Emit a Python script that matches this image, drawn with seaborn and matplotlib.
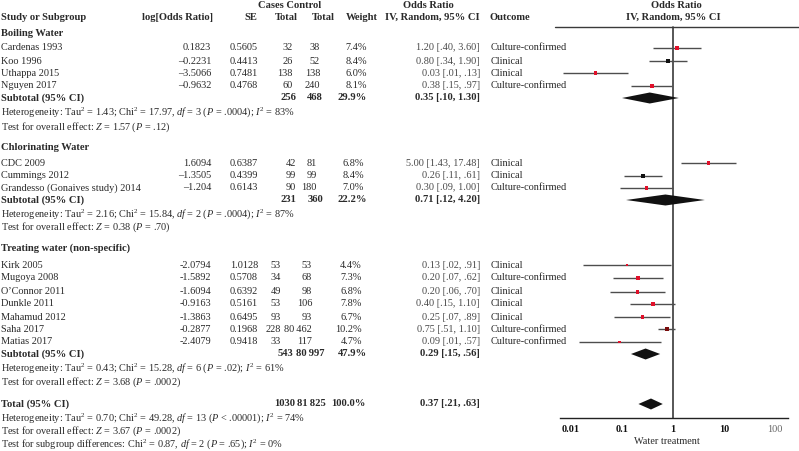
import numpy as np
import pandas as pd
import matplotlib
matplotlib.use("Agg")
import matplotlib.pyplot as plt
import seaborn as sns

# ---- data ----
studies = ["Cardenas 1993", "Koo 1996", "Uthappa 2015", "Nguyen 2017",
           "CDC 2009", "Cummings 2012", "Grandesso (Gonaives study) 2014",
           "Kirk 2005", "Mugoya 2008", "O’Connor 2011", "Dunkle 2011",
           "Mahamud 2012", "Saha 2017", "Matias 2017"]
group_of = [0, 0, 0, 0, 1, 1, 1, 2, 2, 2, 2, 2, 2, 2]
log_or_txt = ["0.1823", "–0.2231", "–3.5066", "–0.9632",
              "1.6094", "–1.3505", "–1.204",
              "-2.0794", "-1.5892", "-1.6094", "-0.9163", "-1.3863", "-0.2877", "-2.4079"]
se = [0.5605, 0.4413, 0.7481, 0.4768, 0.6387, 0.4399, 0.6143,
      1.0128, 0.5708, 0.6392, 0.5161, 0.6495, 0.1968, 0.9418]
cases = [32, 26, 138, 60, 42, 99, 90, 53, 34, 49, 53, 93, 228, 33]
controls = [38, 52, 138, 240, 81, 99, 180, 53, 68, 98, 106, 93, 80462, 117]
weight = [7.4, 8.4, 6.0, 8.1, 6.8, 8.4, 7.0, 4.4, 7.3, 6.8, 7.8, 6.7, 10.2, 4.7]
or_txt = ["1.20 [.40, 3.60]", "0.80 [.34, 1.90]", "0.03 [.01, .13]", "0.38 [.15, .97]",
          "5.00 [1.43, 17.48]", "0.26 [.11, .61]", "0.30 [.09, 1.00]",
          "0.13 [.02, .91]", "0.20 [.07, .62]", "0.20 [.06, .70]", "0.40 [.15, 1.10]",
          "0.25 [.07, .89]", "0.75 [.51, 1.10]", "0.09 [.01, .57]"]
outcome = ["Culture-confirmed", "Clinical", "Clinical", "Culture-confirmed",
           "Clinical", "Clinical", "Culture-confirmed",
           "Clinical", "Culture-confirmed", "Clinical", "Clinical", "Clinical",
           "Culture-confirmed", "Culture-confirmed"]

group_names = ["Boiling Water", "Chlorinating Water", "Treating water (non-specific)"]
sub_cases = [256, 231, 543]
sub_controls = [468, 360, 80997]
sub_weight = [29.9, 22.2, 47.9]
sub_est = [0.35, 0.71, 0.29]
sub_lo = [0.10, 0.12, 0.15]
sub_hi = [1.30, 4.20, 0.56]
sub_het = [r"Heterogeneity: Tau$^2$ = 1.43; Chi$^2$ = 17.97, $\mathit{df}$ = 3 ($\mathit{P}$ = .0004); $\mathit{I}^2$ = 83%",
           r"Heterogeneity: Tau$^2$ = 2.16; Chi$^2$ = 15.84, $\mathit{df}$ = 2 ($\mathit{P}$ = .0004); $\mathit{I}^2$ = 87%",
           r"Heterogeneity: Tau$^2$ = 0.43; Chi$^2$ = 15.28, $\mathit{df}$ = 6 ($\mathit{P}$ = .02); $\mathit{I}^2$ = 61%"]
sub_test = [r"Test for overall effect: $\mathit{Z}$ = 1.57 ($\mathit{P}$ = .12)",
            r"Test for overall effect: $\mathit{Z}$ = 0.38 ($\mathit{P}$ = .70)",
            r"Test for overall effect: $\mathit{Z}$ = 3.68 ($\mathit{P}$ = .0002)"]

total_cases, total_controls, total_weight = 1030, 81825, 100.0
total_est, total_lo, total_hi = 0.37, 0.21, 0.63
total_notes = [r"Heterogeneity: Tau$^2$ = 0.70; Chi$^2$ = 49.28, $\mathit{df}$ = 13 ($\mathit{P}$ < .00001); $\mathit{I}^2$ = 74%",
               r"Test for overall effect: $\mathit{Z}$ = 3.67 ($\mathit{P}$ = .0002)",
               r"Test for subgroup differences: Chi$^2$ = 0.87, $\mathit{df}$ = 2 ($\mathit{P}$ = .65); $\mathit{I}^2$ = 0%"]

tick_vals = [0.01, 0.1, 1, 10, 100]
tick_labels = ["0.01", "0.1", "1", "10", "100"]

# ---- layout (pixel rows / column edges per group) ----
study_y = [48, 61, 73, 86, 163, 176, 188, 265, 278, 292, 304, 317, 329, 342]
head_y = [33, 148, 248]
sub_y = [98, 200, 354]
het_y = [112, 214, 368]
test_y = [127, 227, 382]
total_y = 404
total_note_y = [418, 431, 444]
axis_y = 418
col_cases = [293, 296, 281]
col_ctrl = [320, 317, 312]
col_wt = [367, 364, 362]
sub_col_cases = [296, 296, 293]
sub_col_ctrl = [323, 323, 325]

W, H = 799, 451
sns.set_theme(style="white")
plt.rcParams['font.family'] = ['Liberation Serif', 'DejaVu Serif']
plt.rcParams['mathtext.fontset'] = 'custom'
plt.rcParams['mathtext.rm'] = 'Liberation Serif'
plt.rcParams['mathtext.it'] = 'Liberation Serif:italic'
plt.rcParams['mathtext.bf'] = 'Liberation Serif:bold'

FS = 7.4
FSB = 7.6
TXT = '#2a2a2a'
THIN = '\u2009'

fig = plt.figure(figsize=(W / 100, H / 100), dpi=100)
fig.patch.set_facecolor('white')

# text layer in pixel coordinates
tx = fig.add_axes([0, 0, 1, 1])
tx.set_xlim(0, W)
tx.set_ylim(H, 0)
tx.axis('off')


def put(x, y, s, ha='left', bold=False, color=TXT):
    tx.text(x, y, s, ha=ha, va='center', fontsize=FSB if bold else FS,
            fontweight='bold' if bold else 'normal', color=color)


def grp(n):
    return f"{n:,}".replace(",", THIN)


# headers
put(290, 5, "Cases Control", ha='center', bold=True)
put(1, 17, "Study or Subgroup", bold=True)
put(213, 17, "log[Odds Ratio]", ha='right', bold=True)
put(257, 17, "SE", ha='right', bold=True)
put(298, 17, "Total", ha='right', bold=True)
put(335, 17, "Total", ha='right', bold=True)
put(378, 17, "Weight", ha='right', bold=True)
put(428, 5, "Odds Ratio", ha='center', bold=True)
put(432, 17, "IV, Random, 95% CI", ha='center', bold=True)
put(490, 17, "Outcome", bold=True)
put(676, 5, "Odds Ratio", ha='center', bold=True)
put(673, 17, "IV, Random, 95% CI", ha='center', bold=True)

for i, name in enumerate(studies):
    y = study_y[i]
    g = group_of[i]
    put(1, y, name)
    put(211, y, log_or_txt[i], ha='right')
    put(230, y, f"{se[i]:.4f}")
    put(col_cases[g], y, f"{cases[i]}", ha='right')
    put(col_ctrl[g], y, grp(controls[i]), ha='right')
    put(col_wt[g], y, f"{weight[i]:.1f}%", ha='right')
    put(480, y, or_txt[i], ha='right', color='#4a4a4a')
    put(491, y, outcome[i])

for g, gname in enumerate(group_names):
    put(1, head_y[g], gname, bold=True)
    put(1, sub_y[g], "Subtotal (95% CI)", bold=True)
    put(sub_col_cases[g], sub_y[g], f"{sub_cases[g]}", ha='right', bold=True)
    put(sub_col_ctrl[g], sub_y[g], grp(sub_controls[g]), ha='right', bold=True)
    put(367, sub_y[g], f"{sub_weight[g]:.1f}%", ha='right', bold=True)
    lo = f"{sub_lo[g]:.2f}".lstrip('0')
    hi = f"{sub_hi[g]:.2f}"
    hi = hi.lstrip('0') if sub_hi[g] < 1 else hi
    put(480, sub_y[g], f"{sub_est[g]:.2f} [{lo}, {hi}]", ha='right', bold=True)
    put(1, het_y[g], sub_het[g])
    put(1, test_y[g], sub_test[g])

put(1, total_y, "Total (95% CI)", bold=True)
put(295, total_y, f"{total_cases}", ha='right', bold=True)
put(326, total_y, grp(total_controls), ha='right', bold=True)
put(366, total_y, f"{total_weight:.1f}%", ha='right', bold=True)
put(480, total_y, f"{total_est:.2f} [{total_lo:.2f}, {total_hi:.2f}]".replace("[0", "[").replace(" 0.", " ."),
    ha='right', bold=True)
for s, y in zip(total_notes, total_note_y):
    put(1, y, s)
put(667, 442, "Water treatment", ha='center')

# forest layer
x0, x1, xc, dec = 560, 788, 673, 51.0
ax = fig.add_axes([x0 / W, 0, (x1 - x0) / W, 1])
ax.patch.set_alpha(0)
ax.set_xscale('log')
ax.set_xlim(10 ** ((x0 - xc) / dec), 10 ** ((x1 - xc) / dec))
ax.set_ylim(H, 0)

df = pd.DataFrame({
    'study': studies,
    'y': study_y,
    'est': np.exp([float(s.replace('–', '-')) for s in log_or_txt]),
    'se': se,
    'weight': weight,
})
lor = np.log(df['est'])
df['lo'] = np.exp(lor - 1.96 * df['se'])
df['hi'] = np.exp(lor + 1.96 * df['se'])
df['mk'] = ['red'] * len(df)
df.loc[df['study'].isin(['Koo 1996', 'Cummings 2012']), 'mk'] = 'black'
df.loc[df['study'] == 'Saha 2017', 'mk'] = 'darkred'

ax.hlines(df['y'], df['lo'], df['hi'], color='#4d4d4d', lw=1.0, zorder=2)
sns.scatterplot(data=df, x='est', y='y', hue='mk', size='weight',
                palette={'red': '#e0102a', 'black': '#111111', 'darkred': '#7a0c0c'},
                sizes=(4, 9), marker='s', linewidth=0, legend=False, ax=ax, zorder=3)

# diamonds
dia_est = sub_est + [total_est]
dia_lo = sub_lo + [total_lo]
dia_hi = sub_hi + [total_hi]
dia_y = sub_y + [total_y]
for e, lo, hi, y in zip(dia_est, dia_lo, dia_hi, dia_y):
    ax.fill([lo, e, hi, e], [y, y - 5.5, y, y + 5.5], color='#111111', lw=0, zorder=4)

# reference line and header rule
ax.plot([1, 1], [27, axis_y], color='#3a3a3a', lw=1.2, zorder=1)
tx.plot([555, W], [27, 27], color='#3a3a3a', lw=1.0)

# axis
for side in ['left', 'right', 'top']:
    ax.spines[side].set_visible(False)
ax.spines['bottom'].set_position(('data', axis_y))
ax.spines['bottom'].set_color('#222222')
ax.spines['bottom'].set_linewidth(1.0)
ax.set_yticks([])
ax.set_xticks(tick_vals)
ax.set_xticklabels(tick_labels)
ax.minorticks_off()
ax.tick_params(axis='x', direction='inout', length=6, width=1.0, color='#222222',
               pad=2, labelsize=FS)
for lab in ax.get_xticklabels():
    if lab.get_text() == "100":
        lab.set_color('#666666')
    else:
        lab.set_fontweight('bold')
        lab.set_color('#111111')
ax.set_xlabel("")
ax.set_ylabel("")

fig.savefig("out.png", dpi=100, facecolor='white')
